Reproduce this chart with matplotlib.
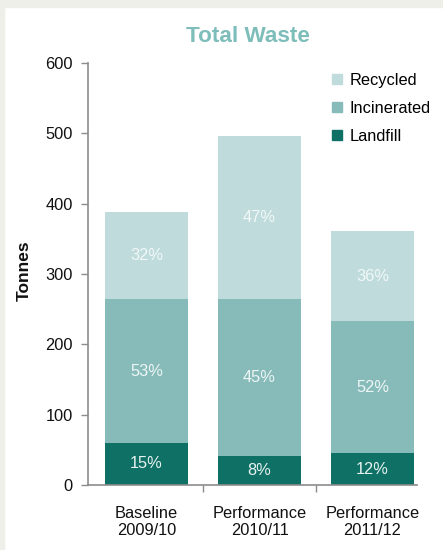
import matplotlib
matplotlib.use("Agg")
import matplotlib.pyplot as plt
from matplotlib.lines import Line2D
from matplotlib.patches import Rectangle

categories = ["Baseline\n2009/10", "Performance\n2010/11", "Performance\n2011/12"]
landfill = [60, 41, 45]
incinerated = [204, 223, 188]
recycled = [124, 232, 128]
landfill_pct = ["15%", "8%", "12%"]
incinerated_pct = ["53%", "45%", "52%"]
recycled_pct = ["32%", "47%", "36%"]
series_names = ["Recycled", "Incinerated", "Landfill"]
yticks = [0, 100, 200, 300, 400, 500, 600]

c_rec = "#bfdbdb"
c_inc = "#86bbb9"
c_land = "#0f7166"
title_color = "#7dbdba"
axis_color = "#8c8c8c"

plt.rcParams['font.family'] = ['Liberation Sans', 'DejaVu Sans']

W, H = 443, 550
fig = plt.figure(figsize=(W / 100, H / 100), dpi=100)
fig.patch.set_facecolor("white")
band = "#efefe9"
fig.patches.append(Rectangle((0, 1 - 7 / H), 1, 7 / H, transform=fig.transFigure, color=band, zorder=0))
fig.patches.append(Rectangle((0, 0), 4 / W, 1, transform=fig.transFigure, color=band, zorder=0))

ax = fig.add_axes([88 / W, 1 - 485 / H, (417 - 88) / W, (485 - 63) / H])
x = list(range(len(categories)))
bw = 0.73
ax.bar(x, landfill, bw, color=c_land, zorder=2)
ax.bar(x, incinerated, bw, bottom=landfill, color=c_inc, zorder=2)
bottom2 = [a + b for a, b in zip(landfill, incinerated)]
ax.bar(x, recycled, bw, bottom=bottom2, color=c_rec, zorder=2)

fs = 11.8
for i in x:
    ax.text(i, landfill[i] / 2, landfill_pct[i], ha="center", va="center", color="#e8f2f0", fontsize=fs, zorder=3)
    ax.text(i, landfill[i] + incinerated[i] / 2, incinerated_pct[i], ha="center", va="center", color="#eef6f5", fontsize=fs, zorder=3)
    ax.text(i, bottom2[i] + recycled[i] / 2, recycled_pct[i], ha="center", va="center", color="#f2f8f8", fontsize=fs, zorder=3)

ax.set_ylim(0, 600)
ax.set_xlim(-0.518, 2.394)
ax.set_yticks(yticks)
ax.set_yticklabels([str(v) for v in yticks], fontsize=fs, color="#111111")
ax.set_xticks(x)
ax.set_xticklabels(categories, fontsize=fs, color="#111111", linespacing=1.15)
ax.tick_params(axis="x", length=0, pad=15)
ax.set_xticks([0.5, 1.5], minor=True)
ax.tick_params(axis="x", which="minor", length=5, color=axis_color, width=1)
ax.tick_params(axis="y", length=5, color=axis_color, width=1, pad=6)
for s in ["top", "right"]:
    ax.spines[s].set_visible(False)
for s in ["left", "bottom"]:
    ax.spines[s].set_color(axis_color)
    ax.spines[s].set_linewidth(1.2)
ax.set_facecolor("none")

fig.text(248 / W, 1 - 36 / H, "Total Waste", ha="center", va="center", fontsize=16.2, fontweight="bold", color=title_color)
fig.text(24 / W, 1 - 271 / H, "Tonnes", ha="center", va="center", rotation=90, fontsize=12.5, fontweight="bold", color="#111111")

handles = [Line2D([], [], marker="s", linestyle="none", markersize=7, color=c) for c in (c_rec, c_inc, c_land)]
leg = ax.legend(handles, series_names, loc="upper left", bbox_to_anchor=((324 - 88) / (417 - 88), 1 - (66 - 63) / (485 - 63)),
                frameon=False, fontsize=fs, handlelength=0.8, handletextpad=0.35, labelspacing=0.8, borderaxespad=0)

fig.savefig("out.png", dpi=100)
